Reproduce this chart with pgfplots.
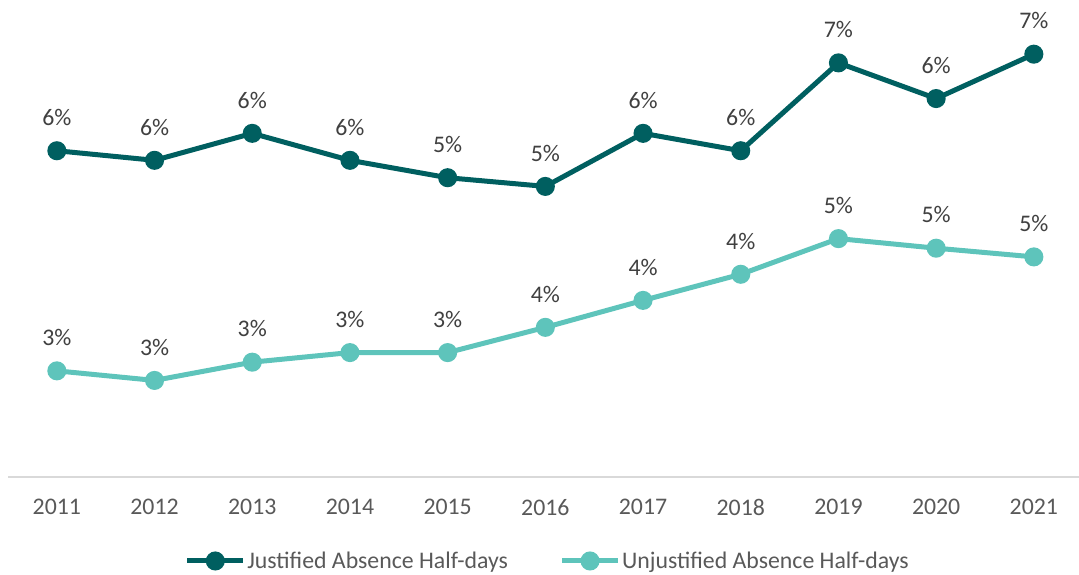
\documentclass[border=0pt]{standalone}
\usepackage{pgfplots}
\pgfplotsset{compat=1.18}
\usepackage{fontspec}
\setmainfont{Carlito}
\definecolor{dark}{HTML}{005F60}
\definecolor{light}{HTML}{5EC4BB}
\definecolor{txt}{HTML}{595959}
\definecolor{lbl}{HTML}{404040}
\definecolor{axisgray}{HTML}{D9D9D9}
\newcommand{\cfont}{\fontsize{23.8bp}{28bp}\selectfont}
\begin{document}
\begin{tikzpicture}
\useasboundingbox (0,0) rectangle (1079bp,575bp);
\begin{axis}[
  at={(8bp,98bp)}, anchor=south west,
  scale only axis, width=1074.7bp, height=478.5bp,
  xmin=2010.5, xmax=2021.5, ymin=2, ymax=7.5,
  clip=false,
  axis y line=none, axis x line*=bottom,
  x axis line style={draw=axisgray, line width=1.3bp, -},
  xtick={2011,2012,2013,2014,2015,2016,2017,2018,2019,2020,2021},
  xticklabels={2011,2012,2013,2014,2015,2016,2017,2018,2019,2020,2021},
  major tick length=0pt,
  xticklabel style={font=\cfont, text=txt, inner sep=0pt, anchor=north, yshift=-22bp},
  /pgf/number format/assume math mode=true,
  nodes near coords={\pgfmathprintnumber[fixed,precision=0]{\pgfplotspointmeta}\%},
  every node near coord/.append style={font=\cfont, text=lbl, anchor=south, inner sep=0pt, yshift=22.5bp},
  legend columns=2,
  legend style={at={(axis description cs:0.502,-0.1755)}, anchor=center, draw=none, fill=none,
    font=\cfont, text=txt, nodes={inner sep=1.5bp},
    /tikz/every even column/.append style={column sep=50bp}},
  legend cell align=left,
  legend image code/.code={\draw[mark repeat=2,mark phase=2,#1] plot coordinates {(0bp,0bp) (28bp,0bp) (56bp,0bp)};},
]
\addplot[color=dark, line width=5bp, mark=*, mark size=7bp, mark options={solid}] coordinates {
(2011,5.75) (2012,5.64) (2013,5.95) (2014,5.64) (2015,5.44) (2016,5.34)
(2017,5.95) (2018,5.75) (2019,6.76) (2020,6.35) (2021,6.86)};
\addlegendentry{Justified Absence Half-days}
\addplot[color=light, line width=5bp, mark=*, mark size=7bp, mark options={solid}] coordinates {
(2011,3.22) (2012,3.11) (2013,3.32) (2014,3.43) (2015,3.43) (2016,3.72)
(2017,4.03) (2018,4.33) (2019,4.74) (2020,4.63) (2021,4.53)};
\addlegendentry{Unjustified Absence Half-days}
\end{axis}
\end{tikzpicture}
\end{document}
